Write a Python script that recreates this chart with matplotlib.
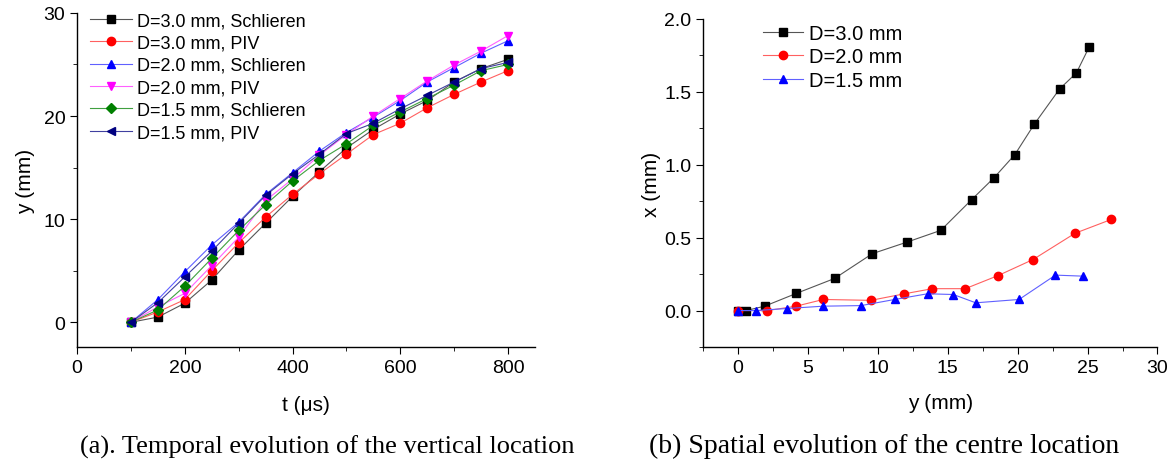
import numpy as np
import matplotlib.pyplot as plt
from matplotlib.ticker import MultipleLocator

plt.rcParams['font.family'] = ['Liberation Sans', 'DejaVu Sans']

# (a) vertical location vs time
t = [100, 150, 200, 250, 300, 350, 400, 450, 500, 550, 600, 650, 700, 750, 800]
y_30_sch = [0, 0.5, 1.85, 4.1, 7.0, 9.6, 12.2, 14.6, 16.9, 18.7, 20.2, 21.5, 23.3, 24.6, 25.5]
y_30_piv = [0, 1.0, 2.2, 5.0, 7.7, 10.2, 12.4, 14.4, 16.3, 18.2, 19.3, 20.8, 22.1, 23.3, 24.4]
y_20_sch = [0, 2.2, 4.9, 7.5, 9.7, 12.4, 14.5, 16.6, 18.4, 19.9, 21.5, 23.3, 24.7, 26.1, 27.3]
y_20_piv = [0, 1.5, 2.8, 5.5, 8.25, 11.8, 13.9, 16.2, 18.2, 20.0, 21.7, 23.4, 24.95, 26.3, 27.8]
y_15_sch = [0, 1.2, 3.5, 6.2, 8.9, 11.4, 13.7, 15.7, 17.3, 19.1, 20.4, 21.7, 23.0, 24.4, 25.0]
y_15_piv = [0, 1.9, 4.4, 6.9, 9.6, 12.3, 14.4, 16.3, 18.3, 19.3, 20.7, 22.0, 23.3, 24.6, 25.2]

# (b) centre location
b30_y = [0, 0.57, 1.9, 4.15, 6.9, 9.6, 12.1, 14.5, 16.7, 18.3, 19.8, 21.2, 23.0, 24.2, 25.1]
b30_x = [0, 0.0, 0.03, 0.117, 0.22, 0.39, 0.47, 0.55, 0.76, 0.91, 1.07, 1.28, 1.52, 1.63, 1.805]
b20_y = [0, 2.1, 4.15, 6.1, 9.5, 11.9, 13.9, 16.25, 18.6, 21.1, 24.1, 26.7]
b20_x = [0, 0.0, 0.03, 0.076, 0.07, 0.115, 0.15, 0.15, 0.24, 0.35, 0.53, 0.625]
b15_y = [0, 1.27, 3.5, 6.1, 8.8, 11.2, 13.55, 15.4, 17.0, 20.1, 22.7, 24.65]
b15_x = [0, 0.0, 0.014, 0.03, 0.034, 0.076, 0.115, 0.11, 0.053, 0.076, 0.243, 0.236]

fig = plt.figure(figsize=(11.68, 4.64), dpi=100)
ax1 = fig.add_axes([0.066, 0.25, 0.392, 0.72])
ax2 = fig.add_axes([0.602, 0.25, 0.389, 0.707])

lw = 0.8
ms = 6
series_a = [
    (y_30_sch, 's', 'black', '#555555', 'D=3.0 mm, Schlieren'),
    (y_30_piv, 'o', 'red', '#ff6060', 'D=3.0 mm, PIV'),
    (y_20_sch, '^', 'blue', '#6060ff', 'D=2.0 mm, Schlieren'),
    (y_20_piv, 'v', 'magenta', '#ff60ff', 'D=2.0 mm, PIV'),
    (y_15_sch, 'D', 'green', '#40a040', 'D=1.5 mm, Schlieren'),
    (y_15_piv, '<', 'navy', '#4040a0', 'D=1.5 mm, PIV'),
]
for vals, mk, mc, lc, lab in series_a:
    msize = ms - 1 if mk == 'D' else ms
    ax1.plot(t, vals, color=lc, lw=lw, marker=mk, ms=msize,
             markerfacecolor=mc, markeredgecolor=mc, label=lab)

ax1.set_xlim(0, 850)
ax1.set_ylim(-2.4, 30)
ax1.xaxis.set_major_locator(MultipleLocator(200))
ax1.xaxis.set_minor_locator(MultipleLocator(100))
ax1.yaxis.set_major_locator(MultipleLocator(10))
ax1.yaxis.set_minor_locator(MultipleLocator(5))
ax1.set_xlabel('t (\u03bcs)', fontsize=15)
ax1.xaxis.set_label_coords(0.5, -0.145)
ax1.set_ylabel('y (mm)', fontsize=15, labelpad=6)
ax1.legend(loc='upper left', bbox_to_anchor=(0.005, 1.035), fontsize=13,
           frameon=False, handlelength=2.3, labelspacing=0.3,
           handletextpad=0.3, borderaxespad=0.2)

series_b = [
    (b30_y, b30_x, 's', 'black', '#555555', 'D=3.0 mm'),
    (b20_y, b20_x, 'o', 'red', '#ff6060', 'D=2.0 mm'),
    (b15_y, b15_x, '^', 'blue', '#6060ff', 'D=1.5 mm'),
]
for xs, ys, mk, mc, lc, lab in series_b:
    ax2.plot(xs, ys, color=lc, lw=lw, marker=mk, ms=ms,
             markerfacecolor=mc, markeredgecolor=mc, label=lab)

ax2.set_xlim(-2.5, 30)
ax2.set_ylim(-0.25, 2.0)
ax2.xaxis.set_major_locator(MultipleLocator(5))
ax2.xaxis.set_minor_locator(MultipleLocator(2.5))
ax2.yaxis.set_major_locator(MultipleLocator(0.5))
ax2.yaxis.set_minor_locator(MultipleLocator(0.25))
ax2.yaxis.set_major_formatter(plt.FormatStrFormatter('%.1f'))
ax2.set_xlabel('y (mm)', fontsize=15)
ax2.xaxis.set_label_coords(0.522, -0.14)
ax2.set_ylabel('x (mm)', fontsize=15, labelpad=2)
ax2.legend(loc='upper left', bbox_to_anchor=(0.092, 1.04), fontsize=14.5,
           frameon=False, handlelength=2.0, labelspacing=0.22,
           handletextpad=0.3)

for ax in (ax1, ax2):
    for s in ('top', 'right'):
        ax.spines[s].set_visible(False)
    for s in ('left', 'bottom'):
        ax.spines[s].set_linewidth(1.0)
    ax.tick_params(which='major', direction='out', length=5, labelsize=14)
    ax.tick_params(which='minor', direction='out', length=3)

fig.text(0.28, 0.037, '(a). Temporal evolution of the vertical location',
         ha='center', va='center', fontsize=19, family='Liberation Serif')
fig.text(0.757, 0.037, '(b) Spatial evolution of the centre location',
         ha='center', va='center', fontsize=20, family='Liberation Serif')

fig.savefig('out.png', dpi=100)
